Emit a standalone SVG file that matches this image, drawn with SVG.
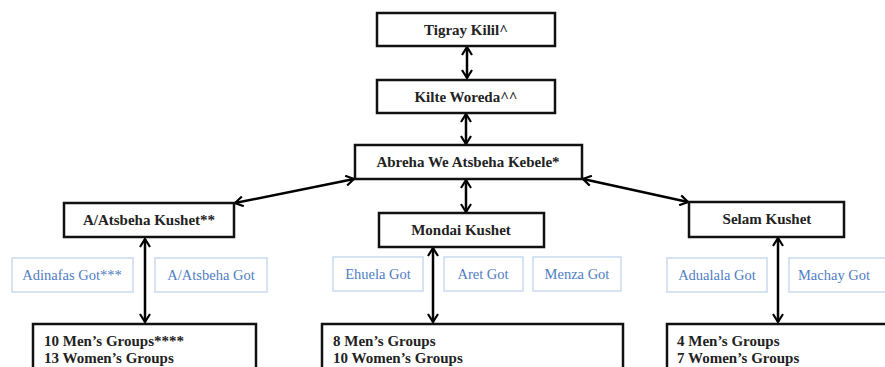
<svg xmlns="http://www.w3.org/2000/svg" width="885" height="367" viewBox="0 0 885 367">
<defs>
<marker id="ah" viewBox="0 0 10 12" refX="9" refY="6" markerWidth="10" markerHeight="12" markerUnits="userSpaceOnUse" orient="auto-start-reverse">
<path d="M1,1 L9,6 L1,11" fill="none" stroke="#000" stroke-width="2.2" stroke-linejoin="miter"/>
</marker>
</defs>
<style>
.box{fill:#fff;stroke:#111;stroke-width:2.5}
.got{fill:#fff;stroke:#c9daf0;stroke-width:1.5}
.t{font-family:"Liberation Serif","DejaVu Serif",serif;font-weight:bold;font-size:15px;fill:#222;text-anchor:middle}
.tl{font-family:"Liberation Serif","DejaVu Serif",serif;font-weight:bold;font-size:15px;fill:#222}
.g{font-family:"Liberation Serif","DejaVu Serif",serif;font-size:14.5px;fill:#4f7dc4;text-anchor:middle}
.c{stroke:#000;stroke-width:2.5;fill:none;marker-start:url(#ah);marker-end:url(#ah)}
</style>
<rect width="885" height="367" fill="#fff"/>
<g id="connectors">
<line class="c" x1="467" y1="47" x2="467" y2="78"/>
<line class="c" x1="466" y1="114" x2="466" y2="144"/>
<line class="c" x1="466" y1="180" x2="466" y2="212"/>
<line class="c" x1="354" y1="179" x2="235" y2="203"/>
<line class="c" x1="583" y1="179" x2="688" y2="202"/>
<line class="c" x1="145" y1="239" x2="145" y2="322"/>
<line class="c" x1="433" y1="248" x2="433" y2="322"/>
<line class="c" x1="778" y1="238" x2="778" y2="322"/>
</g>
<g id="tigray"><rect class="box" x="377" y="13" width="178" height="33"/><text class="t" x="466" y="35">Tigray Kilil^</text></g>
<g id="kilte"><rect class="box" x="377" y="80" width="178" height="33"/><text class="t" x="466" y="102">Kilte Woreda^^</text></g>
<g id="abreha"><rect class="box" x="355" y="145" width="227" height="34"/><text class="t" x="468" y="167">Abreha We Atsbeha Kebele*</text></g>
<g id="aatsbeha-kushet"><rect class="box" x="64" y="203" width="170" height="34"/><text class="t" x="149" y="225">A/Atsbeha Kushet**</text></g>
<g id="mondai-kushet"><rect class="box" x="379" y="213" width="165" height="34"/><text class="t" x="461" y="235">Mondai Kushet</text></g>
<g id="selam-kushet"><rect class="box" x="689" y="202" width="155" height="35"/><text class="t" x="767" y="224">Selam Kushet</text></g>
<g id="adinafas-got"><rect class="got" x="12" y="258" width="121" height="34"/><text class="g" x="72" y="280">Adinafas Got***</text></g>
<g id="aatsbeha-got"><rect class="got" x="155" y="258" width="112" height="34"/><text class="g" x="211" y="280">A/Atsbeha Got</text></g>
<g id="ehuela-got"><rect class="got" x="333" y="257" width="90" height="34"/><text class="g" x="378" y="279">Ehuela Got</text></g>
<g id="aret-got"><rect class="got" x="444" y="257" width="79" height="34"/><text class="g" x="483" y="279">Aret Got</text></g>
<g id="menza-got"><rect class="got" x="533" y="257" width="88" height="34"/><text class="g" x="577" y="279">Menza Got</text></g>
<g id="adualala-got"><rect class="got" x="667" y="258" width="100" height="34"/><text class="g" x="717" y="280">Adualala Got</text></g>
<g id="machay-got"><rect class="got" x="789" y="258" width="100" height="34"/><text class="g" x="834" y="280">Machay Got</text></g>
<g id="groups-left"><rect class="box" x="33" y="324" width="223" height="60"/><text class="tl" x="44" y="346">10 Men’s Groups****</text><text class="tl" x="44" y="363">13 Women’s Groups</text></g>
<g id="groups-middle"><rect class="box" x="322" y="324" width="301" height="60"/><text class="tl" x="333" y="346">8 Men’s Groups</text><text class="tl" x="333" y="363">10 Women’s Groups</text></g>
<g id="groups-right"><rect class="box" x="667" y="324" width="230" height="60"/><text class="tl" x="677" y="346">4 Men’s Groups</text><text class="tl" x="677" y="363">7 Women’s Groups</text></g>
</svg>
